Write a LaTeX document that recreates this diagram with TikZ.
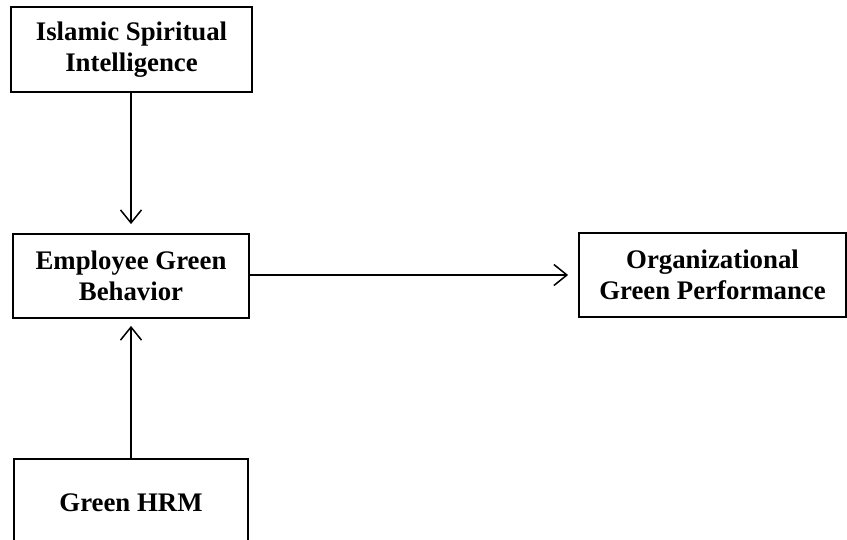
\documentclass[tikz,border=0pt]{standalone}
\usepackage{fontspec}
\setmainfont{Liberation Serif}
\usetikzlibrary{arrows.meta}
\begin{document}
\begin{tikzpicture}[x=1pt,y=-1pt,
  box/.style={draw=black, line width=1.8pt, rectangle, align=center, inner sep=0pt,
    font=\fontsize{26.8}{30.5}\selectfont\bfseries},
  arr/.style={draw=black, line width=1.5pt, -{Straight Barb[length=13pt,width=21pt,line width=1.5pt]}}]
\useasboundingbox (0,0) rectangle (847,539);
\clip (0,0) rectangle (847,539);
\node[box, minimum width=241pt, minimum height=85pt] (b1) at (131.5,49.5) {Islamic Spiritual\\Intelligence};
\node[box, minimum width=236pt, minimum height=84pt] (b2) at (131,276) {Employee Green\\Behavior};
\node[box, minimum width=267pt, minimum height=84pt] (b3) at (712.5,275) {Organizational\\Green Performance};
\node[box, minimum width=234pt, minimum height=88pt] (b4) at (131,503) {Green HRM};
\draw[arr, shorten >=9pt] (b1.south -| b2.north) -- (b2.north);
\draw[arr, shorten >=7pt] (b4.north) -- (b2.south);
\draw[arr, shorten >=10pt] (b2.east |- b3.west) -- (b3.west);
\end{tikzpicture}
\end{document}
